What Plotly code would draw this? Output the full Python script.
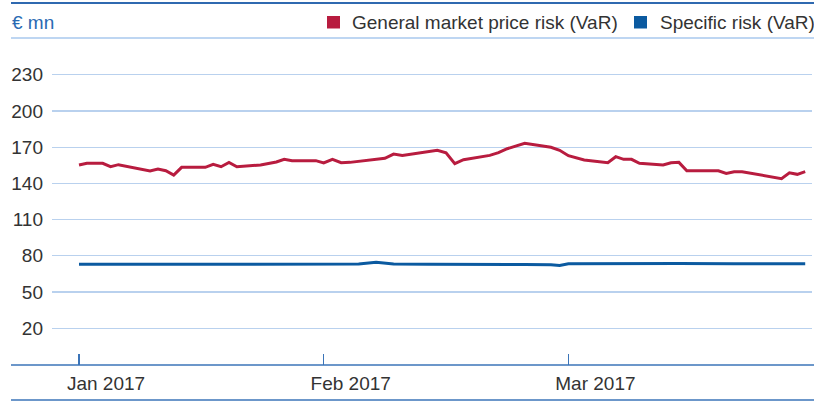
import calendar
import plotly.graph_objects as go

# ---- data ----
series_names = ["General market price risk (VaR)", "Specific risk (VaR)"]
series_colors = ["#b81c3f", "#0b5aa0"]

general_dates = [
    "2017-01-01", "2017-01-02", "2017-01-04", "2017-01-05", "2017-01-06", "2017-01-10",
    "2017-01-11", "2017-01-12", "2017-01-13", "2017-01-14", "2017-01-17", "2017-01-18",
    "2017-01-19", "2017-01-20", "2017-01-21", "2017-01-24", "2017-01-26", "2017-01-27",
    "2017-01-28", "2017-01-31", "2017-02-01", "2017-02-02", "2017-02-03", "2017-02-04",
    "2017-02-08", "2017-02-09", "2017-02-10", "2017-02-14", "2017-02-15", "2017-02-16",
    "2017-02-17", "2017-02-20", "2017-02-21", "2017-02-22", "2017-02-24", "2017-02-27",
    "2017-02-28", "2017-03-01", "2017-03-03", "2017-03-06", "2017-03-07", "2017-03-08",
    "2017-03-09", "2017-03-10", "2017-03-13", "2017-03-14", "2017-03-15", "2017-03-16",
    "2017-03-20", "2017-03-21", "2017-03-22", "2017-03-23", "2017-03-28", "2017-03-29",
    "2017-03-30", "2017-03-31",
]
general_values = [
    155.2, 156.6, 156.6, 153.8, 155.5, 150.3,
    151.9, 150.5, 146.9, 153.3, 153.3, 155.8,
    153.8, 157.4, 153.8, 155.2, 157.7, 159.9,
    158.8, 158.8, 156.9, 159.9, 157.1, 157.4,
    160.8, 164.3, 163.2, 167.4, 165.4, 156.3,
    159.6, 163.2, 165.4, 168.7, 173.2, 169.9,
    167.4, 162.9, 159.4, 157.1, 162.1, 159.9,
    159.9, 156.6, 155.2, 157.1, 157.4, 150.5,
    150.5, 148.3, 149.7, 149.7, 143.9, 148.8,
    147.5, 149.7,
]

specific_dates = [
    "2017-01-01", "2017-01-17", "2017-01-19", "2017-01-21", "2017-01-27", "2017-02-03",
    "2017-02-05", "2017-02-07", "2017-02-09", "2017-02-13", "2017-02-17", "2017-02-24",
    "2017-02-27", "2017-02-28", "2017-03-01", "2017-03-07", "2017-03-09", "2017-03-15",
    "2017-03-22", "2017-03-31",
]
specific_values = [
    73.0, 73.0, 73.4, 73.2, 73.4, 73.4,
    73.2, 74.6, 73.3, 73.0, 72.7, 72.8,
    72.6, 72.0, 73.5, 73.8, 73.7, 73.6,
    73.5, 73.5,
]

month_labels = ["Jan 2017", "Feb 2017", "Mar 2017"]
y_ticks = [20, 50, 80, 110, 140, 170, 200, 230]
unit_label = "€ mn"


def month_position(date_str):
    """Axis position where each month occupies one equal unit."""
    y, m, d = (int(p) for p in date_str.split("-"))
    ndays = calendar.monthrange(y, m)[1]
    return (m - 1) + (d - 1) / ndays


# ---- layout geometry (pixels) ----
W, H = 814, 407
L, R, T, B = 52, 2, 50, 42
plot_w = W - L - R
plot_h = H - T - B


def px_x(px):
    return (px - L) / plot_w


def px_y(py):
    return (H - B - py) / plot_h


fig = go.Figure()
for name, color, dates, vals in [
    (series_names[0], series_colors[0], general_dates, general_values),
    (series_names[1], series_colors[1], specific_dates, specific_values),
]:
    fig.add_trace(go.Scatter(
        x=[month_position(d) for d in dates], y=vals, mode="lines", name=name,
        line=dict(color=color, width=3), showlegend=False, hoverinfo="skip",
    ))

line_blue = "#3b74b8"
shapes = [
    dict(type="line", xref="paper", yref="paper", x0=px_x(11), x1=px_x(814),
         y0=px_y(3), y1=px_y(3), line=dict(color="#2f69b0", width=2)),
    dict(type="line", xref="paper", yref="paper", x0=px_x(11), x1=px_x(814),
         y0=px_y(38), y1=px_y(38), line=dict(color="#a9c9ee", width=1.5)),
    dict(type="line", xref="paper", yref="paper", x0=px_x(11), x1=px_x(814),
         y0=px_y(365), y1=px_y(365), line=dict(color=line_blue, width=1.4)),
    dict(type="line", xref="paper", yref="paper", x0=px_x(11), x1=px_x(814),
         y0=px_y(400), y1=px_y(400), line=dict(color=line_blue, width=1.6)),
    dict(type="rect", xref="paper", yref="paper", x0=px_x(327), x1=px_x(340),
         y0=px_y(28.5), y1=px_y(16), fillcolor=series_colors[0], line=dict(width=0)),
    dict(type="rect", xref="paper", yref="paper", x0=px_x(634), x1=px_x(647),
         y0=px_y(28.5), y1=px_y(16), fillcolor=series_colors[1], line=dict(width=0)),
]

font_family = "Liberation Sans, Arial, sans-serif"
FS = 19
annotations = [
    dict(text=unit_label, xref="paper", yref="paper", x=px_x(10), y=px_y(22),
         xanchor="left", yanchor="middle", showarrow=False,
         font=dict(family=font_family, size=FS, color="#2a6ab3")),
    dict(text=series_names[0], xref="paper", yref="paper", x=px_x(350), y=px_y(22),
         xanchor="left", yanchor="middle", showarrow=False,
         font=dict(family=font_family, size=FS, color="#333333")),
    dict(text=series_names[1], xref="paper", yref="paper", x=px_x(658), y=px_y(22),
         xanchor="left", yanchor="middle", showarrow=False,
         font=dict(family=font_family, size=FS, color="#333333")),
]

month_px = 244.7
x_left = -(79 - L) / month_px
x_right = 2 + (W - R - 568.4) / month_px
px_per_unit = 1.2077
y_bottom = 20 - (H - B - 328.3) / px_per_unit
y_top = 230 + (74.7 - T) / px_per_unit

fig.update_layout(
    width=W, height=H,
    margin=dict(l=L, r=R, t=T, b=B, pad=0),
    paper_bgcolor="white", plot_bgcolor="white",
    font=dict(family=font_family, size=FS, color="#333333"),
    shapes=shapes, annotations=annotations,
    xaxis=dict(
        range=[x_left, x_right], tickvals=[0, 1, 2], ticktext=month_labels,
        ticks="inside", ticklen=11, tickwidth=1.3, tickcolor=line_blue,
        showgrid=False, zeroline=False, showline=False,
        ticklabelshift=27, ticklabelstandoff=5,
        tickfont=dict(family=font_family, size=FS, color="#333333"),
    ),
    yaxis=dict(
        range=[y_bottom, y_top], tickvals=y_ticks,
        showgrid=True, gridcolor="#b9d1ee", gridwidth=1.3,
        zeroline=False, showline=False, ticks="",
        ticklabelstandoff=8,
        tickfont=dict(family=font_family, size=FS, color="#333333"),
    ),
)

fig.write_html(
    "out.html",
    config={"displayModeBar": False, "staticPlot": True},
    post_script="document.body.style.margin='0';document.body.style.padding='0';",
)
